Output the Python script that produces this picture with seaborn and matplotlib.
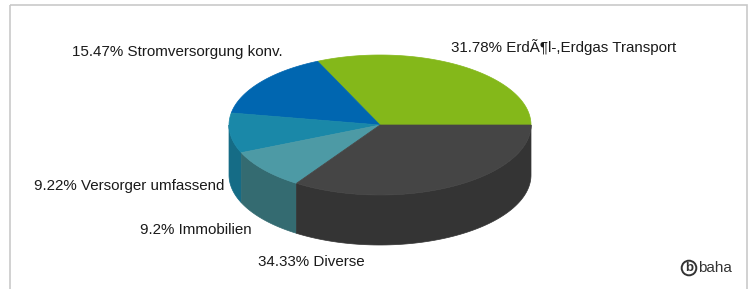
import numpy as np
import matplotlib
matplotlib.use("Agg")
import matplotlib.pyplot as plt
from matplotlib.patches import Polygon, Rectangle
import seaborn as sns

# ---- data ----
categories = ["ErdÃ¶l-,Erdgas Transport", "Stromversorgung konv.", "Versorger umfassend",
              "Immobilien", "Diverse"]
values = [31.78, 15.47, 9.22, 9.2, 34.33]
value_labels = ["31.78%", "15.47%", "9.22%", "9.2%", "34.33%"]

top_colors = ["#84b81a", "#0066b0", "#1a88a8", "#4d9aa5", "#454545"]
side_colors = ["#5f8613", "#004b82", "#156c86", "#346b71", "#343434"]

sns.set_theme(style="white")
plt.rcParams["font.family"] = ["Liberation Sans", "DejaVu Sans"]

W, H = 754, 289
fig = plt.figure(figsize=(W / 100, H / 100), dpi=100)
ax = fig.add_axes([0, 0, 1, 1])
ax.set_xlim(0, W)
ax.set_ylim(H, 0)
ax.axis("off")

# frame
ax.add_patch(Rectangle((9.5, 4.5), 737, 300, fill=False, edgecolor="#c9c9c9", lw=1.2))

# pie geometry (layout)
cx, cy, rx, ry, depth = 380, 125, 151, 70, 50

fr = np.array(values) / np.sum(values)
bounds = np.concatenate([[0], np.cumsum(fr)]) * 2 * np.pi

def pt(t, dy=0.0):
    return cx + rx * np.cos(t), cy - ry * np.sin(t) + dy

# side walls (front half: angles pi..2pi)
for i in range(len(values)):
    a, b = bounds[i], bounds[i + 1]
    lo, hi = max(a, np.pi), min(b, 2 * np.pi)
    if hi <= lo:
        continue
    t = np.linspace(lo, hi, 80)
    xs, ys = pt(t)
    xb, yb = pt(t[::-1], depth)
    poly = np.column_stack([np.concatenate([xs, xb]), np.concatenate([ys, yb])])
    ax.add_patch(Polygon(poly, closed=True, facecolor=side_colors[i], edgecolor=side_colors[i], lw=0.5))

# top wedges
for i in range(len(values)):
    a, b = bounds[i], bounds[i + 1]
    t = np.linspace(a, b, 120)
    xs, ys = pt(t)
    poly = np.column_stack([np.concatenate([[cx], xs]), np.concatenate([[cy], ys])])
    ax.add_patch(Polygon(poly, closed=True, facecolor=top_colors[i], edgecolor=top_colors[i], lw=0.5))

# labels
label_pos = [(451, 47, "left"), (283, 52, "right"), (224, 186, "right"),
             (252, 230, "right"), (258, 262, "left")]
for (x, y, ha), v, c in zip(label_pos, value_labels, categories):
    ax.text(x, y, f"{v} {c}", ha=ha, va="center", fontsize=10.9, color="#1a1a1a")

# logo
ax.text(689, 268, "b", ha="center", va="center", fontsize=9.5, fontweight="bold", color="#333333",
        bbox=dict(boxstyle="circle,pad=0.1", fc="white", ec="#333333", lw=1.4))
ax.text(698, 268, "baha", ha="left", va="center", fontsize=11, color="#333333")

fig.savefig("out.png", dpi=100)
